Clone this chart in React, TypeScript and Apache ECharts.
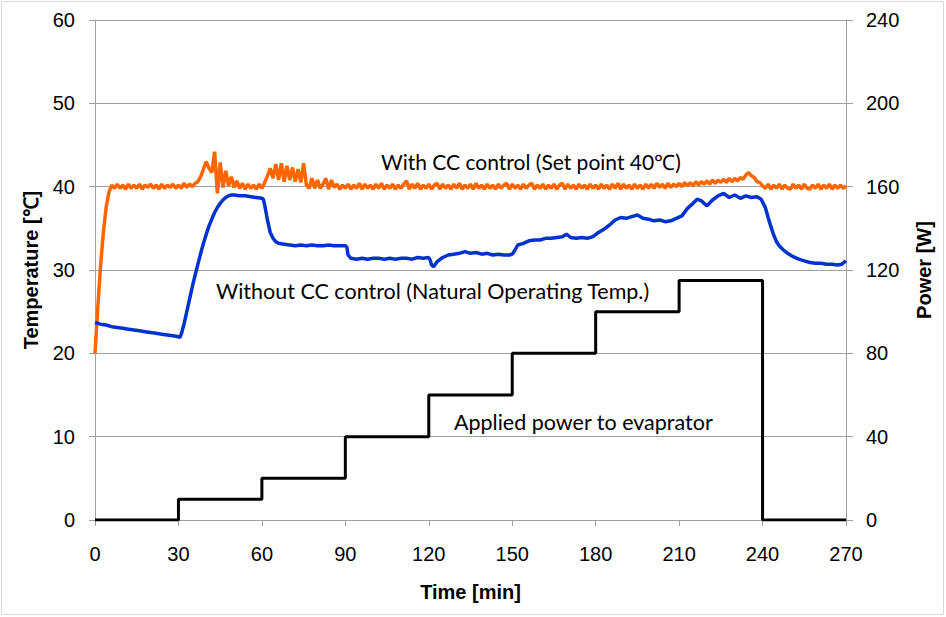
import React, { useEffect, useRef } from "react";
import * as echarts from "echarts";

// Applied power [W], step changes at [time, power]
const powerSteps: [number, number][] = [
  [0, 0], [30, 10], [60, 20], [90, 40], [120, 60], [150, 80], [180, 100], [210, 115], [240, 0], [270, 0],
];

// With CC control: temperature sampled every minute from t = 0
const withCCTemps: number[] = [
  20.0, 25.5, 30.5, 34.5, 37.5, 39.3, 40.2, 39.8, 40.3, 39.8,
  40.2, 39.7, 40.3, 39.8, 40.2, 39.8, 40.3, 39.7, 40.2, 39.9,
  40.3, 39.8, 40.2, 39.7, 40.3, 39.8, 40.2, 39.9, 40.3, 39.8,
  40.2, 39.8, 40.4, 39.9, 40.3, 40.0, 40.4, 40.6, 41.2, 42.1,
  43.0, 42.2, 41.7, 44.2, 39.2, 42.9, 39.9, 41.9, 40.1, 41.2,
  39.9, 40.7, 39.8, 40.4, 39.7, 40.3, 39.8, 40.2, 39.7, 40.3,
  39.8, 40.5, 41.3, 42.2, 41.0, 42.7, 40.8, 42.8, 40.6, 42.5,
  40.8, 42.3, 40.6, 42.1, 40.5, 42.8, 40.2, 39.8, 41.0, 39.8,
  40.8, 39.8, 40.3, 41.0, 39.7, 40.8, 39.9, 40.3, 39.7, 40.2,
  39.8, 40.3, 39.7, 40.2, 39.8, 40.4, 39.7, 40.3, 39.8, 40.2,
  39.7, 40.3, 39.8, 40.4, 39.7, 40.2, 39.8, 40.3, 39.7, 40.2,
  39.8, 40.3, 40.7, 39.7, 40.3, 39.8, 40.4, 39.7, 40.2, 39.8,
  40.3, 39.7, 40.2, 40.4, 39.7, 40.3, 39.8, 40.2, 39.7, 40.3,
  39.8, 40.4, 39.7, 40.2, 39.8, 40.3, 39.7, 40.4, 39.8, 40.2,
  39.7, 40.3, 39.8, 40.2, 39.7, 40.3, 39.8, 40.2, 40.4, 39.7,
  40.3, 39.8, 40.2, 39.7, 40.3, 39.8, 40.2, 40.4, 39.7, 40.2,
  39.8, 40.3, 39.7, 40.2, 39.8, 40.3, 39.7, 40.2, 40.4, 39.7,
  40.3, 39.8, 40.2, 39.7, 40.3, 39.8, 40.2, 39.7, 40.3, 39.8,
  40.2, 39.7, 40.3, 39.8, 40.2, 39.7, 40.3, 39.8, 40.4, 39.7,
  40.3, 39.8, 40.2, 39.7, 40.3, 39.8, 40.2, 39.7, 40.3, 39.8,
  40.3, 39.8, 40.4, 39.9, 40.3, 39.8, 40.4, 39.9, 40.3, 40.0,
  40.4, 40.0, 40.5, 40.1, 40.5, 40.1, 40.6, 40.2, 40.6, 40.3,
  40.7, 40.3, 40.8, 40.4, 40.8, 40.5, 40.9, 40.5, 41.0, 40.6,
  41.0, 40.7, 41.1, 40.9, 41.4, 41.7, 41.3, 41.1, 40.6, 40.5,
  40.1, 39.8, 40.3, 39.7, 40.2, 39.8, 40.3, 39.7, 40.2, 39.8,
  39.7, 40.3, 39.8, 40.2, 39.7, 40.3, 39.8, 39.7, 40.2, 39.8,
  40.3, 39.7, 40.2, 39.8, 40.3, 39.7, 40.2, 39.8, 40.2, 39.8,
  40.1,
];

// Without CC control: [time, temperature]
const withoutCC: [number, number][] = [
  [0, 23.7], [2, 23.5], [4, 23.4], [6, 23.2], [8, 23.1], [10, 23.0], [12, 22.9], [14, 22.8],
  [16, 22.7], [18, 22.6], [20, 22.5], [22, 22.4], [24, 22.3], [26, 22.2], [28, 22.1], [30, 22.0],
  [30.5, 21.9], [31, 22.3], [32, 23.5], [33, 25.0], [34, 26.5], [35, 28.0], [36, 29.4], [37, 30.7],
  [38, 32.0], [39, 33.2], [40, 34.3], [41, 35.3], [42, 36.1], [43, 36.9], [44, 37.5], [45, 38.0],
  [46, 38.4], [47, 38.7], [48, 38.9], [49, 39.0], [50, 39.0], [52, 38.9], [54, 38.9], [56, 38.8],
  [58, 38.7], [60, 38.6], [60.5, 38.5], [61, 37.8], [62, 36.0], [63, 34.5], [64, 33.8], [65, 33.4],
  [66, 33.2], [68, 33.1], [70, 33.0], [72, 32.9], [74, 33.0], [76, 32.9], [78, 33.0], [80, 32.9],
  [82, 32.9], [84, 33.0], [86, 32.9], [88, 32.9], [90, 32.9], [90.5, 32.8], [91, 31.8], [92, 31.4],
  [94, 31.3], [96, 31.4], [98, 31.3], [100, 31.4], [102, 31.4], [104, 31.3], [106, 31.4], [108, 31.3],
  [110, 31.4], [112, 31.4], [114, 31.3], [116, 31.5], [118, 31.4], [120, 31.5], [120.5, 31.2],
  [121, 30.6], [121.7, 30.4], [123, 31.0], [125, 31.5], [127, 31.8], [129, 31.9], [131, 32.0],
  [133, 32.2], [135, 32.0], [137, 32.1], [139, 31.9], [141, 32.0], [143, 31.8], [145, 31.9],
  [147, 31.8], [149, 31.8], [150, 31.9], [151, 32.4], [152, 33.0], [154, 33.2], [156, 33.5],
  [158, 33.6], [160, 33.6], [162, 33.8], [164, 33.8], [166, 33.9], [168, 34.0], [169.5, 34.3],
  [171, 33.9], [173, 33.8], [175, 33.9], [177, 33.8], [179, 34.0], [181, 34.5], [183, 34.9],
  [185, 35.4], [187, 36.0], [189, 36.3], [191, 36.2], [193, 36.4], [195, 36.6], [197, 36.2],
  [199, 36.1], [201, 35.9], [203, 36.0], [205, 35.8], [207, 35.9], [209, 36.2], [211, 36.5],
  [213, 37.4], [215, 38.0], [216.5, 38.5], [218, 38.3], [220, 37.7], [222, 38.4], [224, 38.9],
  [226, 39.2], [228, 38.7], [230, 39.0], [232, 38.6], [234, 38.9], [236, 38.7], [238, 38.8],
  [239.5, 38.5], [241, 37.5], [242, 36.3], [243, 35.2], [244, 34.2], [245, 33.4], [246, 32.9],
  [247.5, 32.4], [249, 32.0], [251, 31.6], [253, 31.3], [255, 31.1], [257, 30.9], [259, 30.8],
  [261, 30.8], [263, 30.7], [265, 30.7], [267, 30.6], [268.5, 30.7], [270, 31.1],
];

const annotations = [
  "With CC control (Set point 40\u2103)",
  "Without CC control (Natural Operating Temp.)",
  "Applied power to evaprator",
];

const GRAY = "#a0a0a0";
const AXIS_FONT = "'Liberation Sans', Arial, sans-serif";
const NOTE_FONT = "Lato, 'Open Sans', sans-serif";

export default function App() {
  const ref = useRef<HTMLDivElement>(null);
  useEffect(() => {
    document.body.style.margin = "0";
    const chart = echarts.init(ref.current!, null, { renderer: "svg" });
    const withCC = withCCTemps.map((v, i) => [i, v]);
    chart.setOption({
      animation: false,
      backgroundColor: "#ffffff",
      grid: { left: 95, right: 100, top: 20, bottom: 97, containLabel: false },
      xAxis: {
        type: "value",
        min: 0,
        max: 270,
        interval: 30,
        axisLine: { show: true, lineStyle: { color: GRAY, width: 1 } },
        axisTick: { show: true, length: 6, lineStyle: { color: GRAY } },
        axisLabel: { margin: 24, fontSize: 20, color: "#000", fontFamily: AXIS_FONT },
        splitLine: { show: false },
        name: "Time [min]",
        nameLocation: "middle",
        nameGap: 62,
        nameTextStyle: { fontSize: 20, fontWeight: "bold", color: "#000", fontFamily: AXIS_FONT },
      },
      yAxis: [
        {
          type: "value",
          min: 0,
          max: 60,
          interval: 10,
          axisLine: { show: true, lineStyle: { color: GRAY, width: 1 } },
          axisTick: { show: true, length: 6, lineStyle: { color: GRAY } },
          axisLabel: { margin: 20, fontSize: 20, color: "#000", fontFamily: AXIS_FONT },
          splitLine: { show: true, lineStyle: { color: GRAY, width: 1 } },
          name: "Temperature [\u2103]",
          nameLocation: "middle",
          nameGap: 54,
          nameTextStyle: { fontSize: 20, fontWeight: "bold", color: "#000", fontFamily: AXIS_FONT },
        },
        {
          type: "value",
          min: 0,
          max: 240,
          interval: 40,
          position: "right",
          axisLine: { show: true, lineStyle: { color: GRAY, width: 1 } },
          axisTick: { show: true, length: 7, lineStyle: { color: GRAY } },
          axisLabel: { margin: 20, fontSize: 20, color: "#000", fontFamily: AXIS_FONT },
          splitLine: { show: false },
          name: "Power [W]",
          nameLocation: "middle",
          nameGap: 68,
          nameTextStyle: { fontSize: 20, fontWeight: "bold", color: "#000", fontFamily: AXIS_FONT },
        },
      ],
      series: [
        {
          type: "line",
          name: "With CC control",
          data: withCC,
          showSymbol: false,
          symbol: "none",
          lineStyle: { color: "#ff6600", width: 3.5 },
          yAxisIndex: 0,
          z: 3,
        },
        {
          type: "line",
          name: "Without CC control",
          data: withoutCC,
          showSymbol: false,
          symbol: "none",
          lineStyle: { color: "#0033cc", width: 3.5 },
          yAxisIndex: 0,
          z: 3,
        },
        {
          type: "line",
          name: "Applied power",
          data: powerSteps,
          step: "end",
          showSymbol: false,
          symbol: "none",
          lineStyle: { color: "#000000", width: 3 },
          yAxisIndex: 1,
          z: 4,
        },
      ],
      graphic: [
        {
          type: "rect",
          shape: { x: 1.5, y: 1.5, width: 942, height: 613 },
          style: { fill: "none", stroke: "#d9d9d9", lineWidth: 1 },
          silent: true,
        },
        {
          type: "text",
          x: 381,
          y: 161,
          style: { text: annotations[0], fontSize: 21, fontFamily: NOTE_FONT, fill: "#000", verticalAlign: "middle", align: "left" },
        },
        {
          type: "text",
          x: 216,
          y: 291,
          style: { text: annotations[1], fontSize: 21.5, fontFamily: NOTE_FONT, fill: "#000", verticalAlign: "middle", align: "left" },
        },
        {
          type: "text",
          x: 454,
          y: 422,
          style: { text: annotations[2], fontSize: 21.5, fontFamily: NOTE_FONT, fill: "#000", verticalAlign: "middle", align: "left" },
        },
      ],
    });
    return () => chart.dispose();
  }, []);
  return <div ref={ref} style={{ width: 946, height: 617 }} />;
}
